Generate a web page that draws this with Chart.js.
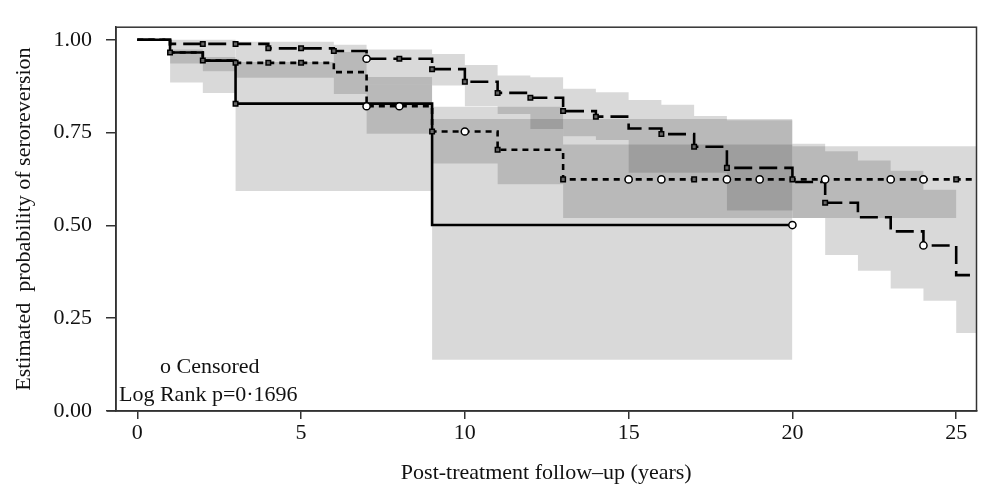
<!DOCTYPE html>
<html>
<head>
<meta charset="utf-8">
<script src="https://cdn.jsdelivr.net/npm/chart.js@4.4.1/dist/chart.umd.min.js"></script>
<style>
  html, body { margin: 0; padding: 0; background: #fff; }
  #wrap { width: 982px; height: 491px; }
</style>
</head>
<body>
<div id="wrap"><canvas id="km" width="982" height="491"></canvas></div>
<script>
// Axis ticks
const xTicks = [0, 5, 10, 15, 20, 25];
const yTicks = [0, 0.25, 0.5, 0.75, 1.0];

// Solid curve (value holds from each time until the next one)
const solidTimes = [0, 1, 2, 3, 9, 20];
const solidSurv = [1.0, 0.966, 0.944, 0.828, 0.501, 0.501];

// Short-dashed curve
const dotTimes = [0, 1, 2, 3, 6, 7, 9, 11, 13, 25.62];
const dotSurv = [1.0, 0.966, 0.944, 0.938, 0.913, 0.821, 0.753, 0.704, 0.624, 0.624];

// Long-dashed curve
const dashTimes = [0, 1, 4, 6, 7, 9, 10, 11, 12, 13, 14, 15, 16, 17, 18, 20, 21, 22, 23, 24, 25, 25.62];
const dashSurv = [1.0, 0.989, 0.977, 0.970, 0.949, 0.921, 0.887, 0.857, 0.844, 0.808, 0.793, 0.761, 0.746, 0.712, 0.655, 0.617, 0.561, 0.522, 0.484, 0.446, 0.366, 0.366];

// Marks on the curves
const solidSquares = [1, 2, 3];
const solidCircles = [20];
const dotSquares = [3, 4, 5, 9, 11, 13, 17, 20, 25];
const dotCircles = [7, 8, 10, 15, 16, 18, 19, 21, 23, 24];
const dashSquares = [2, 3, 4, 5, 6, 8, 9, 10, 11, 12, 13, 14, 16, 17, 18, 21];
const dashCircles = [7, 24];

// Confidence bands
const bandATimes = [1, 2, 3, 6, 9, 13, 20];
const bandALow = [0.885, 0.857, 0.593, 0.593, 0.138, 0.138, 0.138];
const bandAHigh = [0.974, 0.954, 0.94, 0.90, 0.82, 0.787, 0.787];

const bandBTimes = [3, 6, 7, 9, 11, 13, 20, 25.62];
const bandBLow = [0.898, 0.854, 0.747, 0.667, 0.611, 0.52, 0.52, 0.52];
const bandBHigh = [0.975, 0.967, 0.88, 0.787, 0.787, 0.718, 0.713, 0.713];

const bandCTimes = [1, 2, 3, 6, 7, 9, 10, 11, 12, 13, 14, 15, 16, 17, 18, 20, 21, 22, 23, 24, 25, 25.62];
const bandCLow = [0.936, 0.915, 0.975, 0.90, 0.88, 0.877, 0.821, 0.80, 0.76, 0.74, 0.73, 0.642, 0.642, 0.642, 0.54, 0.52, 0.42, 0.378, 0.33, 0.297, 0.21, 0.21];
const bandCHigh = [1.0, 1.0, 0.995, 0.987, 0.974, 0.962, 0.932, 0.904, 0.899, 0.868, 0.859, 0.838, 0.825, 0.795, 0.783, 0.72, 0.70, 0.675, 0.647, 0.596, 0.52, 0.52];

const serif = "'Liberation Serif', 'Times New Roman', serif";
const band = 'rgba(0,0,0,0.15)';

function pts(times, vals) {
    return times.map((t, i) => ({ x: t, y: vals[i] }));
}

// value of a step curve at time t
function survAt(times, vals, t) {
    let v = vals[0];
    for (let i = 0; i < times.length; i++) {
        if (times[i] <= t) v = vals[i];
    }
    return v;
}

function marks(times, vals, at) {
    return at.map(t => ({ x: t, y: survAt(times, vals, t) }));
}

// stepped: true -> horizontal first, then drop at the next time
function bandSets(times, low, high) {
    return [
        { data: pts(times, high), stepped: true, borderWidth: 0, pointRadius: 0, fill: false, order: 5 },
        { data: pts(times, low), stepped: true, borderWidth: 0, pointRadius: 0, fill: '-1', backgroundColor: band, order: 5 }
    ];
}

function curve(times, vals, dash) {
    return { data: pts(times, vals), stepped: true, borderColor: '#000', borderWidth: 2.6,
        borderDash: dash, pointRadius: 0, fill: false, order: 2 };
}

function squareMarks(data) {
    return { data: data, showLine: false, pointStyle: 'rect', pointRadius: 3.2,
        backgroundColor: '#666', borderColor: '#000', borderWidth: 1.5, order: 1 };
}

function circleMarks(data) {
    return { data: data, showLine: false, pointStyle: 'circle', pointRadius: 3.6,
        backgroundColor: '#fff', borderColor: '#000', borderWidth: 1.5, order: 1 };
}

const datasets = [
    ...bandSets(bandATimes, bandALow, bandAHigh),
    ...bandSets(bandBTimes, bandBLow, bandBHigh),
    ...bandSets(bandCTimes, bandCLow, bandCHigh),
    curve(solidTimes, solidSurv, []),
    curve(dotTimes, dotSurv, [6, 5]),
    curve(dashTimes, dashSurv, [18, 7]),
    squareMarks(marks(solidTimes, solidSurv, solidSquares)),
    circleMarks(marks(solidTimes, solidSurv, solidCircles)),
    squareMarks(marks(dotTimes, dotSurv, dotSquares)),
    circleMarks(marks(dotTimes, dotSurv, dotCircles)),
    squareMarks(marks(dashTimes, dashSurv, dashSquares)),
    circleMarks(marks(dashTimes, dashSurv, dashCircles))
];

// Frame around the plot and the note in the corner
const framePlugin = {
    id: 'frame',
    afterDraw(chart) {
        const { ctx, chartArea: a } = chart;
        ctx.save();
        ctx.strokeStyle = '#333';
        ctx.lineWidth = 1.5;
        ctx.strokeRect(a.left, a.top, a.right - a.left, a.bottom - a.top);
        // bottom axis line runs a little past the frame on the left
        ctx.beginPath();
        ctx.moveTo(a.left - 9, a.bottom);
        ctx.lineTo(a.left, a.bottom);
        ctx.stroke();
        ctx.fillStyle = '#111';
        ctx.font = '22px ' + serif;
        ctx.textBaseline = 'alphabetic';
        ctx.fillText('o Censored', 160, 373);
        ctx.fillText('Log Rank p=0\u00b71696', 119, 401);
        ctx.restore();
    }
};

new Chart(document.getElementById('km'), {
    type: 'line',
    data: { datasets: datasets },
    plugins: [framePlugin],
    options: {
        responsive: false,
        animation: false,
        devicePixelRatio: 1,
        layout: { padding: { top: 7, right: 2, left: 0, bottom: 0 } },
        plugins: { legend: { display: false }, tooltip: { enabled: false } },
        scales: {
            x: {
                type: 'linear',
                min: -0.65,
                max: 25.62,
                afterBuildTicks: s => { s.ticks = xTicks.map(v => ({ value: v })); },
                afterFit: s => { s.height = 80; },
                grid: { drawOnChartArea: false, tickLength: 8, color: '#333', lineWidth: 1.5 },
                border: { color: '#333', width: 1.5 },
                ticks: { font: { family: serif, size: 22 }, color: '#111', padding: 1, maxRotation: 0 },
                title: { display: true, text: 'Post-treatment follow\u2013up (years)', font: { family: serif, size: 22 },
                    color: '#111', padding: { top: 0, bottom: 5 } }
            },
            y: {
                min: 0,
                max: 1.034,
                afterBuildTicks: s => { s.ticks = yTicks.map(v => ({ value: v })); },
                afterFit: s => { s.width = 116; },
                grid: { drawOnChartArea: false, tickLength: 10, color: '#333', lineWidth: 1.5 },
                border: { color: '#333', width: 1.5 },
                ticks: { font: { family: serif, size: 22 }, color: '#111', padding: 14,
                    callback: v => v.toFixed(2) },
                title: { display: true, text: 'Estimated  probability of seroreversion', font: { family: serif, size: 22 },
                    color: '#111', padding: { top: 11 } }
            }
        }
    }
});
</script>
</body>
</html>
